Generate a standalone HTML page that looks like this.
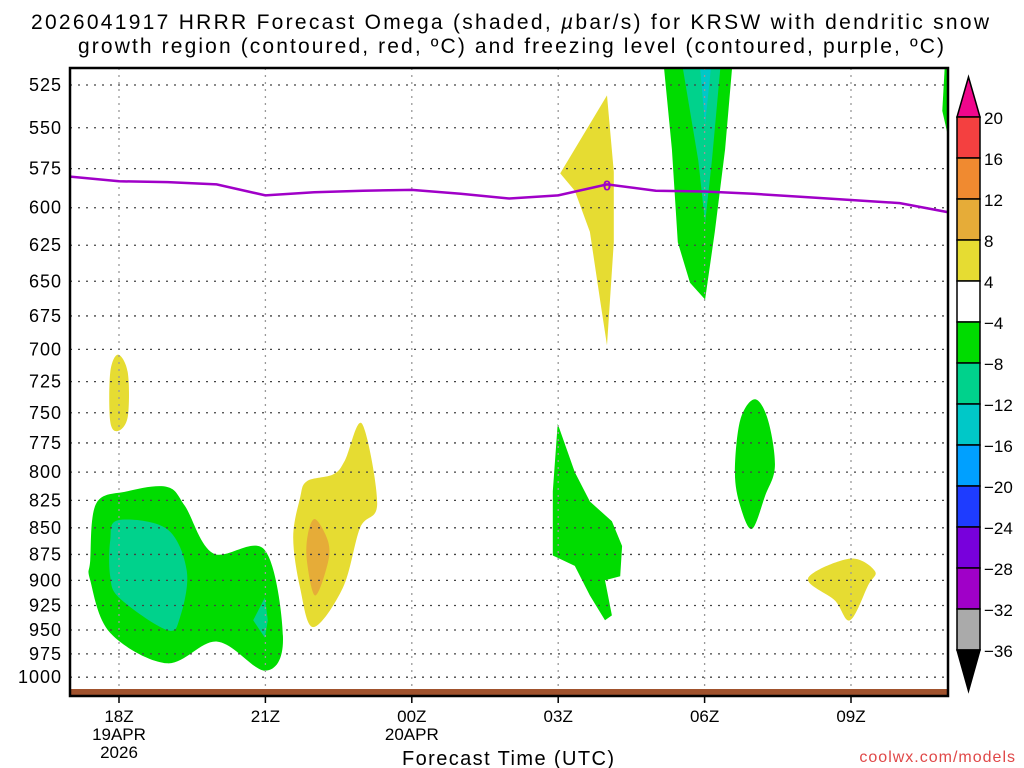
<!DOCTYPE html>
<html><head><meta charset="utf-8"><style>
body{margin:0;background:#fff;width:1024px;height:768px;overflow:hidden;font-family:"Liberation Sans","DejaVu Sans",sans-serif}
svg{display:block}
</style></head><body>
<svg id="chart" width="1024" height="768" xmlns="http://www.w3.org/2000/svg">
<text x="510" y="29" text-anchor="middle" font-size="21" fill="#000" textLength="958" lengthAdjust="spacing">2026041917 HRRR Forecast Omega (shaded, <tspan font-style="italic">µ</tspan>bar/s) for KRSW with dendritic snow</text>
<text x="511" y="53" text-anchor="middle" font-size="21" fill="#000" textLength="866" lengthAdjust="spacing">growth region (contoured, red, ºC) and freezing level (contoured, purple, ºC)</text>
<defs><clipPath id="plotclip"><rect x="70" y="68" width="878" height="628"/></clipPath></defs>
<g id="fills" clip-path="url(#plotclip)"></g>
<g id="grid"></g>
<g id="lines" clip-path="url(#plotclip)"></g>
<rect x="70" y="689" width="878" height="7" fill="#a0522d"/>
<rect x="70" y="68" width="878" height="628" fill="none" stroke="#000" stroke-width="2.5"/>
<g id="yaxis"></g>
<g id="xaxis"></g>
<text x="508" y="765" text-anchor="middle" font-size="20" fill="#000" textLength="212" lengthAdjust="spacing">Forecast Time (UTC)</text>
<text x="1016" y="762" text-anchor="end" font-size="16" fill="#e04848" letter-spacing="1">coolwx.com/models</text>
<g id="cbar"></g>
</svg>
<script>
const pressureTicks=[525,550,575,600,625,650,675,700,725,750,775,800,825,850,875,900,925,950,975,1000];
const timeTickHours=[0,3,6,9,12,15];
const timeTickLabels=[["18Z","19APR","2026"],["21Z"],["00Z","20APR"],["03Z"],["06Z"],["09Z"]];
const freezeHours=[-1,0,1,2,3,4,5,6,7,8,9,10,11,12,13,14,15,16,17];
const freezeP=[580,583,583.5,585,592,590,589,588.5,591,594,592,585,589,589.5,591,593,595,597,603];
const cbarLevels=[20,16,12,8,4,-4,-8,-12,-16,-20,-24,-28,-32,-36];
const cbarColors=["#f44040","#f08a30","#e6ac38","#e6dc32","#ffffff","#00dc00","#00d28c","#00c8c8","#00a0ff","#1e3cff","#7800dc","#a000c8","#aaaaaa"];
const shapeColors=["#00dc00","#00d28c","#00d28c","#e6dc32","#e6dc32","#e6ac38","#e6dc32","#00dc00","#00d28c","#00c8c8","#00dc00","#00dc00","#e6dc32","#00dc00"];
const shapeSmooth=[true,true,false,true,true,true,false,false,false,false,false,true,true,false];
const shapeNames=["green-blob-18z","teal-core-18z","teal-core-21z","yellow-blob-18z","yellow-blob-22z","orange-core-22z","yellow-blob-04z","green-plume-06z","teal-plume-06z","cyan-plume-06z","green-blob-03z","green-blob-07z","yellow-blob-09z","green-edge-11z"];
const shapeHours=[
[-0.59,-0.47,0.16,0.98,1.35,1.93,2.99,3.36,2.99,2.01,0.98,-0.18,-0.59],
[-0.18,-0.02,0.98,1.39,1.25,0.98,0.02,-0.18],
[2.99,3.05,2.99,2.75],
[-0.18,-0.02,0.18,0.18,-0.02,-0.18],
[3.57,3.71,3.85,4.39,4.63,4.98,5.29,4.94,4.59,3.98,3.71],
[4.02,4.28,4.28,4.02,3.85,3.87],
[9.04,10.0,10.14,10.14,10.0,9.86,9.65,9.34],
[11.15,12.58,12.42,12.21,12.01,11.70,11.45,11.33],
[11.52,12.34,12.15,12.01,11.87],
[11.89,12.15,12.01],
[8.89,8.99,9.34,9.65,10.10,10.31,10.27,9.96,10.10,9.96,9.65,9.34,8.89],
[12.62,12.73,13.03,13.30,13.44,13.24,12.97,12.73],
[14.12,14.98,15.49,15.35,14.98,14.67],
[16.93,17.1,17.1,16.87]];
const shapePress=[
[881,828,817,813,830,874,871,960,993,962,985,953,900],
[862,843,851,891,937,950,918,896],
[917,940,958,940],
[718,704,718,753,765,757],
[859,823,808,802,790,759,828,850,907,947,907],
[842,862,883,915,881,856],
[578,531,577,623,697,664,616,589],
[510,510,563,616,663,651,623,563],
[510,510,570,610,570],
[510,510,548],
[817,759,800,826,844,867,896,900,935,940,915,886,876],
[800,756,739,756,795,821,851,830],
[898,879,891,905,940,920],
[510,510,570,540]];

const NS="http://www.w3.org/2000/svg";
function xs(h){return 119+48.8*h;}
function ys(p){return 85+919*Math.log(p/525);}
function mk(tag,attrs,parent){const e=document.createElementNS(NS,tag);for(const k in attrs)e.setAttribute(k,attrs[k]);parent.appendChild(e);return e;}
function smoothPath(pts){
  const n=pts.length;let d="M"+pts[0][0].toFixed(1)+","+pts[0][1].toFixed(1);
  for(let i=0;i<n;i++){
    const p0=pts[(i-1+n)%n],p1=pts[i],p2=pts[(i+1)%n],p3=pts[(i+2)%n];
    const c1=[p1[0]+(p2[0]-p0[0])/6,p1[1]+(p2[1]-p0[1])/6];
    const c2=[p2[0]-(p3[0]-p1[0])/6,p2[1]-(p3[1]-p1[1])/6];
    d+="C"+c1[0].toFixed(1)+","+c1[1].toFixed(1)+" "+c2[0].toFixed(1)+","+c2[1].toFixed(1)+" "+p2[0].toFixed(1)+","+p2[1].toFixed(1);
  }
  return d+"Z";
}

const fills=document.getElementById('fills');
shapeHours.forEach((hs,i)=>{
  const pts=hs.map((h,j)=>[xs(h),ys(shapePress[i][j])]);
  const d=shapeSmooth[i]?smoothPath(pts):"M"+pts.map(p=>p[0].toFixed(1)+","+p[1].toFixed(1)).join("L")+"Z";
  const el=mk('path',{d:d,fill:shapeColors[i]},fills);
  
  
});

const grid=document.getElementById('grid');
const yax=document.getElementById('yaxis');
pressureTicks.forEach(p=>{
  const y=ys(p);
  const gl=mk('line',{x1:70,x2:948,y1:y,y2:y,stroke:"#444","stroke-width":1.3,"stroke-dasharray":"2,6"},grid);
  
  
  const t=mk('text',{x:62,y:y+6,"text-anchor":"end","font-size":18,fill:"#000","letter-spacing":"1"},yax);
  t.textContent=p;
  
  
});
const xax=document.getElementById('xaxis');
timeTickHours.forEach((h,i)=>{
  const x=xs(h);
  const gl=mk('line',{x1:x,x2:x,y1:68,y2:696,stroke:"#999","stroke-width":1.3,"stroke-dasharray":"2,5"},grid);
  
  
  const tk=mk('line',{x1:x,x2:x,y1:696,y2:703,stroke:"#000","stroke-width":1.5},xax);
  
  
  timeTickLabels[i].forEach((s,k)=>{
    const t=mk('text',{x:x,y:722+k*18,"text-anchor":"middle","font-size":17,fill:"#000"},xax);
    t.textContent=s;
    
    
  });
});

const lines=document.getElementById('lines');
const fpts=freezeHours.map((h,i)=>xs(h).toFixed(1)+","+ys(freezeP[i]).toFixed(1)).join(" ");
const fl=mk('polyline',{points:fpts,fill:"none",stroke:"#a000c8","stroke-width":2.5},lines);


const fz=mk('text',{x:xs(10),y:ys(freezeP[11])+6,"text-anchor":"middle","font-size":15,"font-weight":"bold",fill:"#a000c8"},lines);
fz.textContent="0";



const cb=document.getElementById('cbar');
const cx0=957,cx1=980,ctop=117,step=41;
const up=mk('polygon',{points:`${cx0},${ctop} ${cx1},${ctop} ${(cx0+cx1)/2},77`,fill:"#f0068c",stroke:"#000","stroke-width":1.5},cb);


cbarColors.forEach((c,i)=>{
  const r=mk('rect',{x:cx0,y:ctop+i*step,width:cx1-cx0,height:step,fill:c,stroke:"#000","stroke-width":1.5},cb);
  
  
});
const yb=ctop+cbarColors.length*step;
const dn=mk('polygon',{points:`${cx0},${yb} ${cx1},${yb} ${(cx0+cx1)/2},691`,fill:"#000",stroke:"#000","stroke-width":1.5},cb);


cbarLevels.forEach((v,i)=>{
  const t=mk('text',{x:984,y:ctop+i*step+7,"font-size":17,fill:"#000"},cb);
  t.textContent=v<0?"\u2212"+(-v):String(v);
  
  
});
</script>
</body></html>
